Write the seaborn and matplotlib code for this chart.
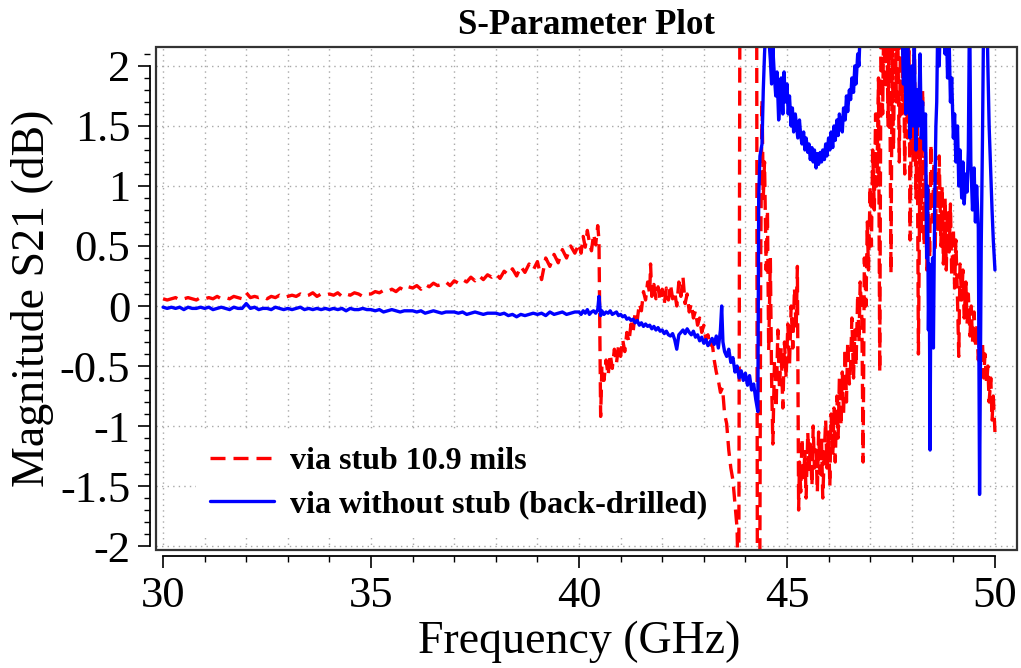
import numpy as np
import pandas as pd
import matplotlib
matplotlib.use("Agg")
import matplotlib.pyplot as plt
from matplotlib.patches import Rectangle
from matplotlib.ticker import MultipleLocator
import seaborn as sns

# ---------------- data ----------------
freq_low = [30.0, 30.1, 30.2, 30.3, 30.4, 30.5, 30.6, 30.7, 30.8, 30.9,
            31.0, 31.1, 31.2, 31.3, 31.4, 31.5, 31.6, 31.7, 31.8, 31.9,
            32.0, 32.1, 32.2, 32.3, 32.4, 32.5, 32.6, 32.7, 32.8, 32.9,
            33.0, 33.1, 33.2, 33.3, 33.4, 33.5, 33.6, 33.7, 33.8, 33.9,
            34.0, 34.1, 34.2, 34.3, 34.4, 34.5, 34.6, 34.7, 34.8, 34.9,
            35.0, 35.1, 35.2, 35.3, 35.4, 35.5, 35.6, 35.7, 35.8, 35.9,
            36.0, 36.1, 36.2, 36.3, 36.4, 36.5, 36.6, 36.7, 36.8, 36.9,
            37.0, 37.1, 37.2, 37.3, 37.4, 37.5, 37.6, 37.7, 37.8, 37.9,
            38.0, 38.1, 38.2, 38.3, 38.4, 38.5, 38.6, 38.7, 38.8, 38.9,
            39.0, 39.1, 39.2, 39.3, 39.4, 39.5, 39.6, 39.7, 39.8, 39.9]

stub_low = [0.06, 0.05, 0.06, 0.07, 0.05, 0.06, 0.07, 0.06, 0.05, 0.07,
            0.06, 0.07, 0.06, 0.08, 0.06, 0.07, 0.06, 0.08, 0.07, 0.06,
            0.11, 0.07, 0.08, 0.07, 0.08, 0.06, 0.08, 0.07, 0.09, 0.07,
            0.08, 0.09, 0.08, 0.10, 0.08, 0.09, 0.11, 0.08, 0.10, 0.09,
            0.10, 0.09, 0.11, 0.08, 0.10, 0.09, 0.11, 0.10, 0.08, 0.10,
            0.10, 0.12, 0.11, 0.13, 0.12, 0.14, 0.12, 0.15, 0.13, 0.16,
            0.15, 0.17, 0.14, 0.18, 0.16, 0.19, 0.17, 0.18, 0.20, 0.17,
            0.21, 0.19, 0.22, 0.20, 0.24, 0.21, 0.25, 0.22, 0.26, 0.24,
            0.27, 0.23, 0.29, 0.26, 0.31, 0.25, 0.33, 0.28, 0.35, 0.30,
            0.37, 0.22, 0.40, 0.33, 0.43, 0.36, 0.47, 0.40, 0.50, 0.44]

nostub_low = [-0.01, -0.02, -0.01, -0.02, -0.01, -0.03, -0.01, -0.02, -0.02, -0.01,
              -0.02, -0.01, -0.03, -0.02, -0.01, -0.02, -0.03, -0.01, -0.02, -0.02,
              0.02, -0.02, -0.01, -0.03, -0.02, -0.02, -0.03, -0.01, -0.02, -0.03,
              -0.02, -0.03, -0.02, -0.01, -0.03, -0.02, -0.03, -0.02, -0.03, -0.02,
              -0.03, -0.02, -0.03, -0.02, -0.04, -0.02, -0.03, -0.03, -0.02, -0.03,
              -0.03, -0.04, -0.03, -0.05, -0.04, -0.03, -0.04, -0.05, -0.04, -0.04,
              -0.04, -0.05, -0.04, -0.06, -0.05, -0.04, -0.05, -0.06, -0.05, -0.05,
              -0.05, -0.06, -0.05, -0.07, -0.06, -0.05, -0.06, -0.07, -0.06, -0.06,
              -0.06, -0.07, -0.06, -0.08, -0.07, -0.09, -0.07, -0.08, -0.07, -0.06,
              -0.07, -0.06, -0.08, -0.05, -0.07, -0.06, -0.05, -0.07, -0.06, -0.05]

stub_freq_high = [
    40.00, 40.05, 40.10, 40.15, 40.20, 40.25, 40.30, 40.35, 40.40, 40.45, 40.48, 40.52,
    40.55, 40.60, 40.65, 40.70, 40.75, 40.80, 40.85, 40.90, 40.95, 41.00, 41.05, 41.10,
    41.15, 41.20, 41.25, 41.30, 41.35, 41.40, 41.45, 41.50, 41.55, 41.60, 41.65, 41.70,
    41.72, 41.75, 41.80, 41.85, 41.90, 41.95, 42.00, 42.05, 42.10, 42.15, 42.20, 42.25,
    42.30, 42.35, 42.40, 42.45, 42.50, 42.55, 42.60, 42.65, 42.70, 42.75, 42.80, 42.85,
    42.90, 42.95, 43.00, 43.05, 43.10, 43.15, 43.20, 43.25, 43.30, 43.35, 43.40, 43.45,
    43.50, 43.55, 43.60, 43.65, 43.70, 43.75, 43.80, 43.84, 43.87, 44.27, 44.29, 44.34,
    44.37, 44.40, 44.43, 44.46, 44.50, 44.53, 44.56, 44.60, 44.63, 44.66, 44.70, 44.74,
    44.78, 44.82, 44.86, 44.90, 44.94, 44.98, 45.02, 45.06, 45.10, 45.14, 45.18, 45.22,
    45.25, 45.28, 45.30, 45.33, 45.36, 45.40, 45.43, 45.46, 45.50, 45.53, 45.56, 45.60,
    45.63, 45.66, 45.70, 45.73, 45.76, 45.80, 45.83, 45.86, 45.90, 45.93, 45.96, 46.00,
    46.03, 46.06, 46.10, 46.13, 46.16, 46.20, 46.23, 46.26, 46.30, 46.33, 46.36, 46.40,
    46.43, 46.46, 46.50, 46.53, 46.56, 46.60, 46.63, 46.66, 46.70, 46.73, 46.76, 46.80,
    46.83, 46.86, 46.90, 46.93, 46.96, 47.00, 47.03, 47.06, 47.10, 47.13, 47.16, 47.20,
    47.23, 47.26, 47.30, 47.33, 47.36, 47.40, 47.43, 47.46, 47.50, 47.53, 47.56, 47.60,
    47.63, 47.66, 47.70, 47.73, 47.76, 47.80, 47.83, 47.86, 47.90, 47.93, 47.96, 48.00,
    48.03, 48.06, 48.10, 48.13, 48.16, 48.20, 48.23, 48.26, 48.30, 48.33, 48.36, 48.40,
    48.43, 48.46, 48.50, 48.53, 48.56, 48.60, 48.63, 48.66, 48.70, 48.73, 48.76, 48.80,
    48.83, 48.86, 48.90, 48.93, 48.96, 49.00, 49.03, 49.06, 49.10, 49.13, 49.16, 49.20,
    49.23, 49.26, 49.30, 49.33, 49.36, 49.40, 49.43, 49.46, 49.50, 49.53, 49.56, 49.60,
    49.63, 49.66, 49.70, 49.73, 49.76, 49.80, 49.83, 49.86, 49.90, 49.93, 49.96, 50.00]

stub_high = [
    0.52, 0.44, 0.58, 0.49, 0.63, 0.53, 0.46, 0.60, 0.51, 0.67, 0.55, -0.92,
    -0.50, -0.62, -0.45, -0.58, -0.40, -0.52, -0.36, -0.48, -0.33, -0.42, -0.28, -0.38,
    -0.22, -0.30, -0.15, -0.22, -0.05, -0.12, 0.02, -0.04, 0.12, 0.05, 0.20, 0.10,
    0.35, 0.08, 0.18, 0.06, 0.16, 0.04, 0.14, 0.02, 0.15, 0.05, 0.18, 0.06,
    0.12, 0.00, 0.20, 0.08, 0.24, 0.02, 0.10, -0.05, 0.02, -0.10, -0.04, -0.16,
    -0.10, -0.22, -0.16, -0.28, -0.24, -0.34, -0.30, -0.45, -0.55, -0.62, -0.72, -0.68,
    -0.90, -0.98, -1.20, -1.35, -1.45, -1.65, -1.85, -2.60, 3.00, 3.00, -3.00, -3.00,
    0.50, 1.72, 0.90, 1.20, 0.30, 0.80, -0.37, 0.40, -0.60, -1.15, -0.45, -0.85,
    -0.20, -0.70, -0.35, -0.85, -0.30, -0.60, -0.15, -0.50, 0.00, -0.35, 0.15, -0.20,
    0.33, -1.70, -1.30, -1.55, -1.10, -1.45, -1.20, -1.60, -1.05, -1.40, -1.15, -1.50,
    -1.00, -1.35, -1.20, -1.55, -1.05, -1.40, -1.10, -1.60, -1.20, -0.95, -1.35, -1.05,
    -1.50, -0.90, -1.25, -0.85, -1.30, -0.75, -1.10, -0.60, -1.00, -0.55, -0.90, -0.35,
    -0.80, -0.30, -0.65, -0.50, -0.10, -0.60, -0.20, -0.50, 0.10, -0.30, 0.20, -0.10,
    -1.30, 0.40, 0.00, 0.70, 0.30, 1.00, 0.50, 1.30, 0.80, 1.60, 1.00, 1.90,
    -0.55, 2.30, 1.60, 2.50, 1.80, 2.40, 1.50, 2.60, 0.27, 2.20, 1.30, 2.50,
    1.70, 2.40, 1.20, 2.30, 1.60, 2.50, 1.10, 2.20, 1.40, 2.40, 0.55, 2.00,
    1.20, 2.30, 0.90, 1.60, -0.40, 1.40, 0.60, 1.80, 0.50, 1.30, 0.30, 1.00,
    0.40, 1.35, 0.70, 1.20, 0.45, 1.10, 0.60, 1.25, 0.50, 1.00, 0.35, 0.90,
    0.30, 0.80, 0.45, 0.85, 0.25, 0.65, 0.15, 0.55, 0.05, -0.42, 0.35, 0.05,
    0.30, -0.10, 0.20, -0.15, 0.10, -0.25, 0.00, -0.30, -0.05, -0.35, -0.15, -0.45,
    -0.25, -0.50, -0.30, -0.60, -0.40, -0.65, -0.50, -0.80, -0.60, -0.95, -0.75, -1.05]

nostub_freq_high = [
    40.00, 40.05, 40.10, 40.15, 40.20, 40.25, 40.30, 40.35, 40.40, 40.45, 40.48, 40.52,
    40.55, 40.60, 40.65, 40.70, 40.75, 40.80, 40.85, 40.90, 40.95, 41.00, 41.05, 41.10,
    41.15, 41.20, 41.25, 41.30, 41.35, 41.40, 41.45, 41.50, 41.55, 41.60, 41.65, 41.70,
    41.75, 41.80, 41.85, 41.90, 41.95, 42.00, 42.05, 42.10, 42.15, 42.20, 42.25, 42.30,
    42.35, 42.40, 42.45, 42.50, 42.55, 42.60, 42.65, 42.70, 42.75, 42.80, 42.85, 42.90,
    42.95, 43.00, 43.05, 43.10, 43.15, 43.20, 43.25, 43.30, 43.35, 43.40, 43.43, 43.46,
    43.50, 43.55, 43.60, 43.65, 43.70, 43.75, 43.80, 43.85, 43.90, 43.95, 44.00, 44.05,
    44.10, 44.15, 44.20, 44.25, 44.30, 44.32, 44.35, 44.40, 44.43, 44.46, 44.50, 44.55,
    44.60, 44.63, 44.66, 44.70, 44.73, 44.76, 44.80, 44.83, 44.86, 44.90, 44.93, 44.96,
    45.00, 45.03, 45.06, 45.10, 45.13, 45.16, 45.20, 45.23, 45.26, 45.30, 45.33, 45.36,
    45.40, 45.43, 45.46, 45.50, 45.53, 45.56, 45.60, 45.63, 45.66, 45.70, 45.73, 45.76,
    45.80, 45.83, 45.86, 45.90, 45.93, 45.96, 46.00, 46.03, 46.06, 46.10, 46.13, 46.16,
    46.20, 46.23, 46.26, 46.30, 46.33, 46.36, 46.40, 46.43, 46.46, 46.50, 46.53, 46.56,
    46.60, 46.63, 46.66, 46.70, 46.73, 46.76, 46.80, 47.00, 47.50, 47.75, 47.80, 47.83,
    47.86, 47.90, 47.93, 47.96, 48.00, 48.03, 48.06, 48.10, 48.13, 48.16, 48.20, 48.23,
    48.26, 48.30, 48.33, 48.36, 48.38, 48.40, 48.42, 48.44, 48.46, 48.48, 48.50, 48.52,
    48.55, 48.58, 48.60, 48.63, 48.66, 48.70, 48.73, 48.76, 48.80, 48.83, 48.86, 48.90,
    48.93, 48.96, 49.00, 49.03, 49.06, 49.10, 49.13, 49.16, 49.20, 49.23, 49.26, 49.30,
    49.33, 49.36, 49.39, 49.42, 49.46, 49.50, 49.53, 49.56, 49.60, 49.63, 49.67, 49.70,
    49.73, 49.76, 49.80, 49.83, 49.86, 49.90, 49.93, 49.96, 50.00]

nostub_high = [
    -0.05, -0.07, -0.04, -0.06, -0.03, -0.07, -0.05, -0.04, -0.06, -0.03, 0.08, -0.08,
    -0.04, -0.07, -0.05, -0.06, -0.04, -0.07, -0.06, -0.05, -0.08, -0.07, -0.09, -0.08,
    -0.11, -0.10, -0.12, -0.11, -0.14, -0.12, -0.16, -0.14, -0.17, -0.15, -0.17, -0.16,
    -0.19, -0.17, -0.20, -0.18, -0.21, -0.20, -0.23, -0.21, -0.24, -0.25, -0.23, -0.28,
    -0.36, -0.24, -0.22, -0.20, -0.23, -0.19, -0.22, -0.24, -0.21, -0.26, -0.24, -0.29,
    -0.26, -0.31, -0.28, -0.33, -0.30, -0.27, -0.32, -0.25, -0.35, -0.20, 0.00, -0.30,
    -0.38, -0.42, -0.36, -0.47, -0.43, -0.55, -0.50, -0.60, -0.54, -0.62, -0.56, -0.66,
    -0.58, -0.70, -0.65, -0.78, -0.88, 0.90, 1.25, 1.35, 1.80, 2.10, 2.40, 2.30,
    2.05, 1.85, 2.15, 1.90, 1.75, 1.95, 1.55, 1.70, 1.90, 1.60, 1.95, 1.70,
    1.85, 1.60, 1.75, 1.50, 1.65, 1.45, 1.60, 1.50, 1.40, 1.55, 1.42, 1.35,
    1.45, 1.30, 1.40, 1.28, 1.35, 1.22, 1.32, 1.20, 1.30, 1.15, 1.27, 1.18,
    1.28, 1.20, 1.30, 1.22, 1.35, 1.25, 1.40, 1.30, 1.45, 1.32, 1.50, 1.38,
    1.55, 1.42, 1.60, 1.50, 1.45, 1.65, 1.55, 1.75, 1.62, 1.80, 1.72, 1.90,
    1.78, 2.00, 1.85, 2.10, 2.00, 2.30, 2.50, 3.00, 3.00, 2.60, 1.85, 2.20,
    1.60, 2.30, 1.90, 1.40, 2.00, 1.50, 2.20, 1.30, 1.80, 1.50, 2.10, 1.40,
    1.70, 1.30, 1.60, 0.40, 1.00, -0.20, 0.35, -1.20, 0.30, -0.25, 0.40, -0.35,
    0.80, 1.50, 1.70, 2.50, 2.00, 2.60, 2.30, 2.50, 2.10, 2.40, 1.90, 2.20,
    1.70, 1.90, 1.40, 1.60, 1.20, 1.50, 1.00, 1.30, 0.90, 1.20, 0.85, 1.10,
    0.95, 1.30, 2.60, 1.20, 0.80, 1.15, 0.70, 1.00, 0.65, -1.57, 0.50, 1.40,
    2.50, 2.40, 2.60, 2.00, 1.50, 1.10, 0.80, 0.55, 0.30]

series_labels = ["via stub 10.9 mils", "via without stub (back-drilled)"]
xtick_vals = [30, 35, 40, 45, 50]
xtick_labels = ["30", "35", "40", "45", "50"]
ytick_vals = [-2, -1.5, -1, -0.5, 0, 0.5, 1, 1.5, 2]
ytick_labels = ["-2", "-1.5", "-1", "-0.5", "0", "0.5", "1", "1.5", "2"]

df_stub = pd.DataFrame({"freq": freq_low + stub_freq_high, "s21": stub_low + stub_high})
df_nostub = pd.DataFrame({"freq": freq_low + nostub_freq_high, "s21": nostub_low + nostub_high})

# ---------------- style ----------------
sns.set_theme(style="white")
plt.rcParams["font.family"] = ["Liberation Serif", "DejaVu Serif"]
plt.rcParams["axes.unicode_minus"] = False
plt.rcParams["text.color"] = "black"
plt.rcParams["axes.labelcolor"] = "black"
plt.rcParams["xtick.color"] = "black"
plt.rcParams["ytick.color"] = "black"

W, H = 1021, 668
fig = plt.figure(figsize=(W / 100, H / 100), dpi=100)
ax = fig.add_axes([156 / W, 1 - 550 / H, (1017 - 156) / W, (550 - 47) / H])

sns.lineplot(data=df_stub, x="freq", y="s21", ax=ax, color="#ff0000", linewidth=2.4,
             estimator=None, sort=False, label=series_labels[0])
sns.lineplot(data=df_nostub, x="freq", y="s21", ax=ax, color="#0000ff", linewidth=2.4,
             estimator=None, sort=False, label=series_labels[1])
ax.lines[0].set_linestyle((0, (4.5, 2.4)))

ax.set_xlim(29.83, 50.53)
ax.set_ylim(-2.033, 2.158)

ax.set_xticks(xtick_vals)
ax.set_xticklabels(xtick_labels)
ax.set_yticks(ytick_vals)
ax.set_yticklabels(ytick_labels)
ax.xaxis.set_minor_locator(MultipleLocator(1))
ax.yaxis.set_minor_locator(MultipleLocator(0.1))

ax.tick_params(axis="both", which="major", direction="out", length=8.5, width=1.2,
               color="black", labelsize=32, labelcolor="black")
ax.tick_params(axis="both", which="minor", direction="out", length=4.5, width=1.0,
               color="black")
ax.tick_params(axis="y", which="major", pad=6)
ax.tick_params(axis="x", which="major", pad=6)
ax.tick_params(left=True, bottom=True, which="both")

for s in ["top", "right"]:
    ax.spines[s].set_visible(False)
ax.spines["left"].set_position(("outward", 4))
ax.spines["bottom"].set_position(("outward", 4.5))
ax.spines["left"].set_bounds(-2, 2)
ax.spines["bottom"].set_bounds(30, 50)
for s in ["left", "bottom"]:
    ax.spines[s].set_color("black")
    ax.spines[s].set_linewidth(1.3)

ax.add_patch(Rectangle((0, 0), 1, 1, transform=ax.transAxes, fill=False,
                       edgecolor="#333333", linewidth=1.6, clip_on=False, zorder=6))

ax.grid(False)
ax.xaxis.grid(True, which="both", linestyle=(0, (1, 3)), color="#a8a8a8", linewidth=1.0)
ax.yaxis.grid(True, which="major", linestyle=(0, (1, 3)), color="#a8a8a8", linewidth=1.0)
ax.set_axisbelow(True)

ax.set_title("S-Parameter Plot", fontsize=25, fontweight="bold", pad=9, color="black")
ax.set_xlabel("Frequency (GHz)", fontsize=33, color="black")
ax.set_ylabel("Magnitude S21 (dB)", fontsize=33, color="black")
ax.xaxis.set_label_coords(0.491, -0.14)
ax.yaxis.set_label_coords(-0.118, 0.5)

leg = ax.legend(loc="lower left", bbox_to_anchor=(0.028, 0.0), frameon=True,
                facecolor="white", edgecolor="none", framealpha=1, fancybox=False,
                handlelength=2.0, handletextpad=0.5, borderpad=0.45, labelspacing=0.45,
                prop={"family": "Liberation Serif", "weight": "bold", "size": 23})
leg.set_zorder(7)
for t in leg.get_texts():
    t.set_color("black")

fig.savefig("out.png", dpi=100)
